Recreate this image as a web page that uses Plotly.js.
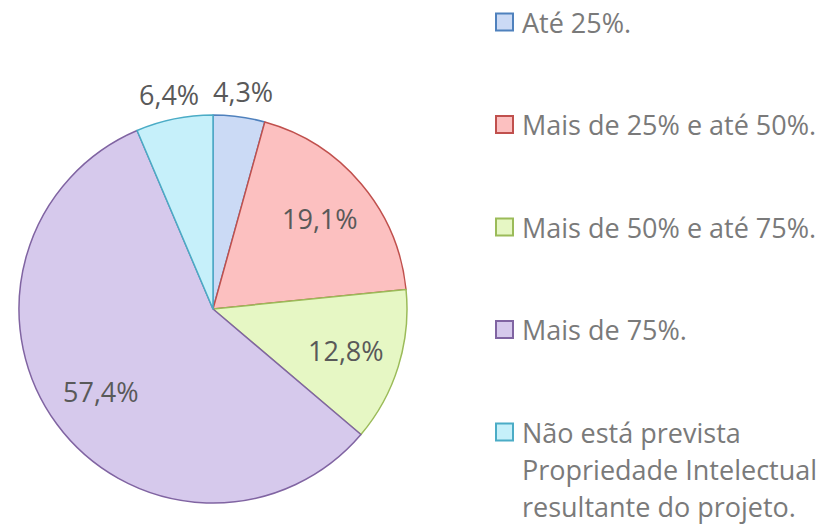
<!DOCTYPE html>
<html><head><meta charset="utf-8">
<script src="https://cdn.plot.ly/plotly-3.0.1.min.js"></script>
<style>html,body{margin:0;padding:0;background:#fff}#chart{width:833px;height:526px}</style>
</head><body><div id="chart"></div>
<script>
const categories = ["Até 25%.", "Mais de 25% e até 50%.", "Mais de 50% e até 75%.", "Mais de 75%.", "Não está prevista<br>Propriedade Intelectual<br>resultante do projeto."];
const values = [4.3, 19.1, 12.8, 57.4, 6.4];
const valueLabels = ["4,3%", "19,1%", "12,8%", "57,4%", "6,4%"];
const fillColors = ["#cbdaf5", "#fcc0c0", "#e6f7c4", "#d6c9ec", "#c6f0fa"];
const lineColors = ["#4f81bd", "#c0504d", "#9bbb59", "#8064a2", "#4bacc6"];

const W = 833, H = 526;
const cx = 213, cy = 309, R = 194;
const px = x => x / W, py = y => 1 - y / H;
const FONT = '"Open Sans", Lato, sans-serif';

const total = values.reduce((a, b) => a + b, 0);
const annotations = [];
const shapes = [];
let cum = 0;
values.forEach((v, i) => {
  const mid = (cum + v / 2) / total * 2 * Math.PI;
  cum += v;
  const small = v / total < 0.08;
  const rr = small ? 1.13 * R : 0.72 * R;
  annotations.push({
    xref: 'paper', yref: 'paper', x: px(cx + rr * Math.sin(mid)), y: py(cy - rr * Math.cos(mid)),
    text: valueLabels[i], showarrow: false, xanchor: 'center', yanchor: 'middle',
    font: {family: FONT, size: 27, color: '#595959'}
  });
});

// legend
const legX = 495, legTop = 22, legStep = 102.5, lineStep = 37;
categories.forEach((c, i) => {
  const yc = legTop + i * legStep;
  shapes.push({type: 'rect', xref: 'paper', yref: 'paper',
    x0: px(legX + 1), x1: px(legX + 18), y0: py(yc - 8.5), y1: py(yc + 8.5),
    fillcolor: fillColors[i], line: {color: lineColors[i], width: 2}});
  c.split('<br>').forEach((ln, j) => {
    annotations.push({xref: 'paper', yref: 'paper', x: px(legX + 25), y: py(yc + j * lineStep),
      text: ln, showarrow: false, xanchor: 'left', yanchor: 'middle',
      font: {family: FONT, size: 27, color: '#7a7a7a'}});
  });
});

const data = [{
  type: 'pie', values: values, labels: categories, sort: false, direction: 'clockwise', rotation: 0,
  textinfo: 'none', hoverinfo: 'label+percent',
  marker: {colors: fillColors, line: {color: lineColors, width: 1.5}},
  domain: {x: [px(17), px(409)], y: [py(503), py(115)]},
  showlegend: false
}];
const layout = {width: W, height: H, margin: {l: 0, r: 0, t: 0, b: 0},
  paper_bgcolor: '#fff', showlegend: false, annotations: annotations, shapes: shapes};
Plotly.newPlot('chart', data, layout, {displayModeBar: false, staticPlot: true});
</script></body></html>
